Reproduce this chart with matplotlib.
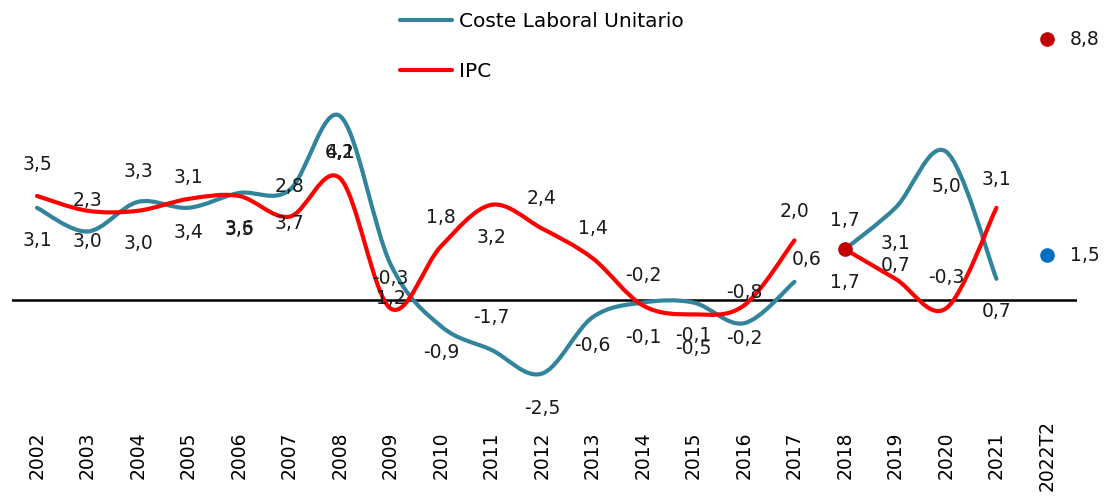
import numpy as np
import matplotlib.pyplot as plt
from matplotlib.path import Path
from matplotlib.patches import PathPatch
from matplotlib.lines import Line2D

# categories
years = [str(y) for y in range(2002, 2022)] + ['2022T2']

# Coste Laboral Unitario and IPC, 2002-2021 (% change)
clu = [3.1, 2.3, 3.3, 3.1, 3.6, 3.7, 6.2, 1.2, -0.9, -1.7,
       -2.5, -0.6, -0.1, -0.1, -0.8, 0.6, 1.7, 3.1, 5.0, 0.7]
ipc = [3.5, 3.0, 3.0, 3.4, 3.5, 2.8, 4.1, -0.3, 1.8, 3.2,
       2.4, 1.4, -0.2, -0.5, -0.2, 2.0, 1.7, 0.7, -0.3, 3.1]
# last point, 2022T2
clu_last = 1.5
ipc_last = 8.8

# the lines are broken between 2017 and 2018
pieces = [(0, 16), (16, 20)]

# label offsets in pixels (negative = above the point)
ipc_lab_off = [-31, 31, 33, 34, 34, -30, -26, -30, -29, 33,
               -30, -30, -30, 34, 33, -29, 33, -13, -31, -28]
clu_lab_off = [33, -31, -30, -30, 36, 33, 36, 34, 26, -32,
               35, 28, 35, 33, -31, -22, -29, 36, 35, 33]

TEAL = '#31849B'
RED = '#FF0000'

plt.rcParams['font.family'] = ['DejaVu Sans']


def smooth_path(xs, ys):
    # bezier path like the smoothed lines of a spreadsheet chart
    pts = np.column_stack([xs, ys]).astype(float)
    n = len(pts)
    verts = [pts[0]]
    codes = [Path.MOVETO]
    for i in range(n - 1):
        p0 = pts[i - 1] if i > 0 else pts[i]
        p1 = pts[i]
        p2 = pts[i + 1]
        p3 = pts[i + 2] if i + 2 < n else pts[i + 1]
        c1 = p1 + (p2 - p0) / 6.0
        c2 = p2 - (p3 - p1) / 6.0
        verts += [c1, c2, p2]
        codes += [Path.CURVE4] * 3
    return Path(verts, codes)


fig = plt.figure(figsize=(11.07, 4.97), dpi=100)
ax = fig.add_axes([11.75 / 1107, 1 - 418 / 497, 1065.5 / 1107, 414.5 / 497])

x = np.arange(len(clu))
for a, b in pieces:
    for vals, col in [(clu, TEAL), (ipc, RED)]:
        p = smooth_path(x[a:b], vals[a:b])
        ax.add_patch(PathPatch(p, facecolor='none', edgecolor=col, lw=3.0,
                               capstyle='round', joinstyle='round', zorder=3))

# marker at 2018
ax.plot(x[16], ipc[16], 'o', color='#C00000', ms=9.5, zorder=5)
# 2022T2 points
ax.plot(20, ipc_last, 'o', color='#C00000', ms=9.5, zorder=5)
ax.plot(20, clu_last, 'o', color='#0070C0', ms=9.5, zorder=5)

fs = 13.5
for i in range(len(clu)):
    for vals, offs in [(ipc, ipc_lab_off), (clu, clu_lab_off)]:
        dx = 12 if (vals is clu and i == 15) else 0
        ax.annotate(f'{vals[i]:.1f}'.replace('.', ','), (x[i], vals[i]),
                    xytext=(dx, -offs[i]), textcoords='offset pixels',
                    ha='center', va='center', fontsize=fs, color='#1a1a1a')
for v in [ipc_last, clu_last]:
    ax.annotate(f'{v:.1f}'.replace('.', ','), (20, v), xytext=(38, 0),
                textcoords='offset pixels', ha='center', va='center',
                fontsize=fs, color='#1a1a1a', annotation_clip=False)

ax.axhline(0, color='black', lw=1.8, zorder=2)
ax.set_xlim(-0.5, 20.6)
ax.set_ylim(-4, 10)
ax.set_xticks(range(len(years)))
ax.set_xticklabels(years, rotation=90, fontsize=fs, va='center')
ax.tick_params(axis='x', length=0, pad=27)
ax.set_yticks([])
for s in ax.spines.values():
    s.set_visible(False)

handles = [Line2D([], [], color=TEAL, lw=3.0, solid_capstyle='round'),
           Line2D([], [], color=RED, lw=3.0, solid_capstyle='round')]
fig.legend(handles, ['Coste Laboral Unitario', 'IPC'], loc='upper left',
           bbox_to_anchor=(400 / 1107, 1 - 12 / 497), frameon=False,
           fontsize=14.5, handlelength=2.6, handletextpad=0.35,
           labelspacing=1.55, borderpad=0, borderaxespad=0)

fig.savefig('out.png', dpi=100)
